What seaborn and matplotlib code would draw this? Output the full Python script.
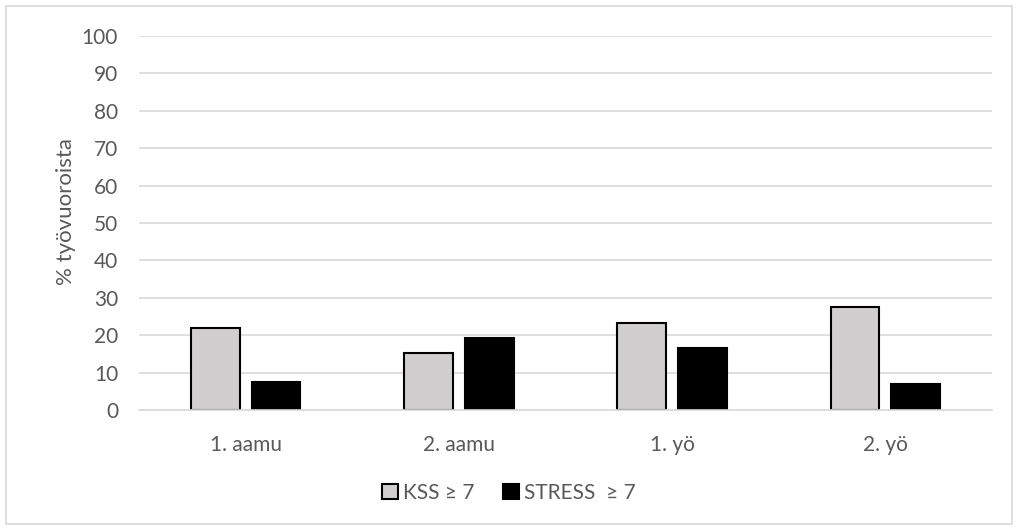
import pandas as pd
import seaborn as sns
import matplotlib.pyplot as plt
from matplotlib.patches import Rectangle

# Data
shifts = ['1. aamu', '2. aamu', '1. yö', '2. yö']
kss = [22.0, 15.3, 23.3, 27.5]
stress = [7.4, 19.2, 16.7, 6.9]
series = ['KSS ≥ 7', 'STRESS  ≥ 7']

df = pd.DataFrame({
    'vuoro': shifts * 2,
    'arvo': kss + stress,
    'sarja': [series[0]] * len(shifts) + [series[1]] * len(shifts),
})

sns.set_theme(style='white')
plt.rcParams['font.family'] = ['Lato', 'DejaVu Sans']
txt = '#595959'

fig = plt.figure(figsize=(10.18, 5.30), dpi=100)
ax = fig.add_axes([0.1365, 0.2264, 0.838, 0.7056])

sns.barplot(data=df, x='vuoro', y='arvo', hue='sarja', hue_order=series,
            palette=['#d0cece', '#000000'], width=0.57, gap=0.2,
            edgecolor='black', linewidth=1.5, ax=ax)

ax.set_ylim(0, 100)
ax.set_yticks(range(0, 101, 10))
ax.yaxis.grid(True, color='#d9d9d9', linewidth=1.2)
ax.set_axisbelow(True)
for s in ['top', 'right', 'left']:
    ax.spines[s].set_visible(False)
ax.spines['bottom'].set_color('#d9d9d9')
ax.spines['bottom'].set_linewidth(1.2)
ax.tick_params(axis='both', length=0, labelsize=15, colors=txt)
ax.tick_params(axis='y', pad=15)
ax.tick_params(axis='x', pad=18)
ax.set_xlabel('')
ax.set_ylabel('% työvuoroista', fontsize=16, color=txt)
ax.yaxis.set_label_coords(-0.074, 0.53)

handles, labels = ax.get_legend_handles_labels()
ax.legend(handles, labels, loc='center', bbox_to_anchor=(0.5, 0.07),
          bbox_transform=fig.transFigure, ncol=2, frameon=False,
          fontsize=15, labelcolor=txt, handlelength=0.75, handleheight=0.75,
          handletextpad=0.25, columnspacing=1.4)

# light frame around the chart area
fig.patches.append(Rectangle((0.006, 0.011), 0.988, 0.977, transform=fig.transFigure,
                             fill=False, edgecolor='#d9d9d9', linewidth=1.2))

fig.savefig('out.png', dpi=100)
